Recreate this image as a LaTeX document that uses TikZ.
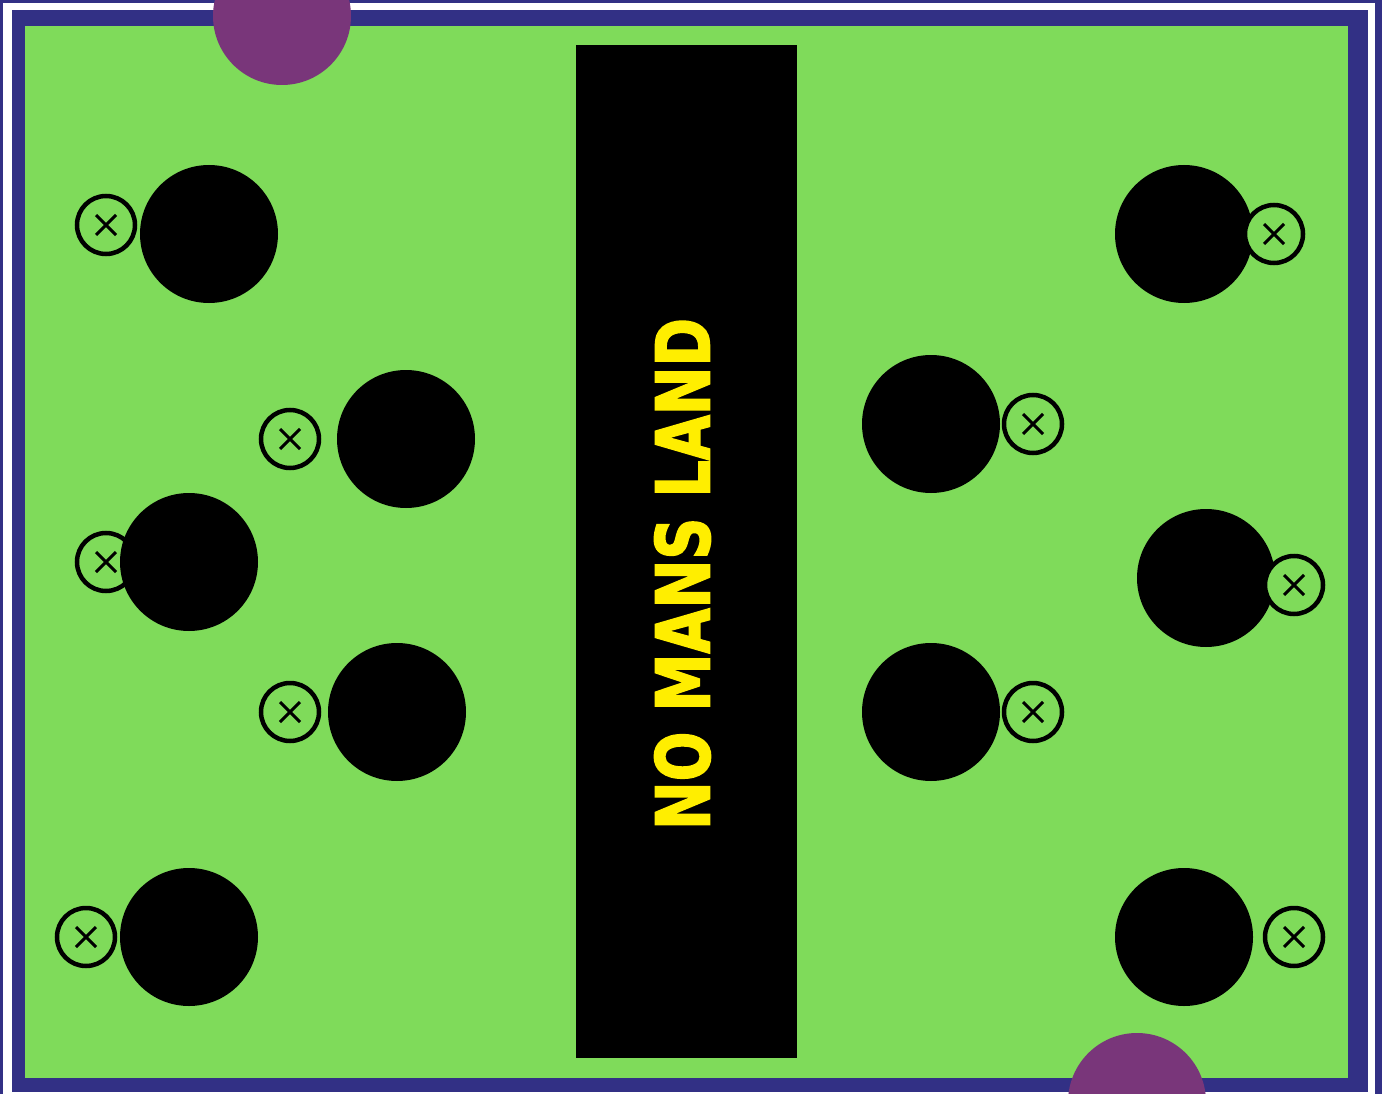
\documentclass[tikz,border=0pt]{standalone}
\usepackage{fontspec}
\usepackage{graphicx}
\newfontfamily\signfont{DejaVu Sans}[BoldFeatures={FakeBold=2.5}]
\definecolor{navy}{HTML}{323085}
\definecolor{pitch}{HTML}{7FDB5A}
\definecolor{plum}{HTML}{79367A}
\definecolor{sign}{HTML}{FFEE00}
\begin{document}
\begin{tikzpicture}[x=1pt,y=-1pt,
    player/.style={circle,fill=black,minimum size=138pt,inner sep=0pt},
    spot/.style={circle,draw=black,line width=4.5pt,fill=pitch,minimum size=58pt,inner sep=0pt},
    cone/.style={circle,fill=plum,minimum size=138pt,inner sep=0pt}]
    \useasboundingbox (0,0) rectangle (1382,1094);
    \clip (0,0) rectangle (1382,1094);
    % frame
    \fill[navy] (0,0) rectangle (1382,1094);
    \fill[white] (3,3) rectangle (1375,1110);
    \fill[navy] (11.5,10) rectangle (1368,1092);
    \fill[pitch] (25,26) rectangle (1348,1078);
    % middle strip
    \fill[black] (576,45) rectangle (797,1058);
    \node (label) [rotate=90,text=sign,inner sep=0pt] at (682.5,574)
        {\resizebox{512pt}{55pt}{\signfont\bfseries NO MANS LAND}};
    % left spots, under the players
    \foreach \x/\y [count=\i] in {106/225,290/439,106/562,290/712,86/937} {
        \node (l\i) [spot] at (\x,\y) {};
        \draw[line width=3pt] (l\i.center) +(-10,-10) -- +(10,10) +(-10,10) -- +(10,-10);
    }
    % players
    \foreach \x/\y [count=\i] in {209/234,406/439,189/562,397/712,189/937,1184/234,931/424,1206/578,931/712,1184/937}
        \node (p\i) [player] at (\x,\y) {};
    % right spots, over the players
    \foreach \x/\y [count=\i] in {1274/234,1033/424,1294/585,1033/712,1294/937} {
        \node (r\i) [spot] at (\x,\y) {};
        \draw[line width=3pt] (r\i.center) +(-10,-10) -- +(10,10) +(-10,10) -- +(10,-10);
    }
    % cones
    \node (top) [cone] at (282,16) {};
    \node (bottom) [cone] at (1137,1102) {};
\end{tikzpicture}
\end{document}
